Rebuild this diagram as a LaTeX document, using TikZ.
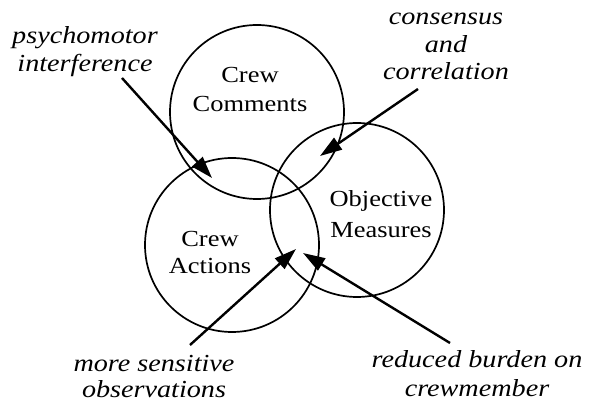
\documentclass[tikz,border=0pt]{standalone}
\usepackage{fontspec}
\setmainfont{Liberation Serif}[FakeStretch=1.15]
\usetikzlibrary{arrows.meta}
\tikzset{
  ring/.style={draw, circle, line width=1.7pt, minimum size=174pt, inner sep=0pt},
  lbl/.style={anchor=base, inner sep=0pt, font=\fontsize{23}{29}\selectfont},
  note/.style={anchor=base, inner sep=0pt, font=\fontsize{24.5}{27}\selectfont\itshape},
  pointer/.style={line width=2.4pt, -{Triangle[length=22pt,width=14pt]}},
}
\begin{document}
\begin{tikzpicture}[x=1pt,y=-1pt]
\path[use as bounding box] (0,0) rectangle (590,403);
% circles
\node[ring] (cc) at (257,112) {};
\node[ring] (ca) at (232,245) {};
\node[ring] (om) at (357,210) {};
% circle labels
\node[lbl] (cctext) at (250,83) {\begin{tabular}[t]{@{}c@{}}Crew\\Comments\end{tabular}};
\node[lbl, font=\fontsize{23}{27}\selectfont] (catext) at (210,247) {\begin{tabular}[t]{@{}c@{}}Crew\\Actions\end{tabular}};
\node[lbl, font=\fontsize{23}{31}\selectfont] (omtext) at (381,207) {\begin{tabular}[t]{@{}c@{}}Objective\\Measures\end{tabular}};
% notes
\node[note, font=\fontsize{24.5}{28}\selectfont\itshape] (psy) at (85,44) {\begin{tabular}[t]{@{}c@{}}psychomotor\\interference\end{tabular}};
\node[note, font=\fontsize{24.5}{27.5}\selectfont\itshape] (cons) at (446,25) {\begin{tabular}[t]{@{}c@{}}consensus\\and\\correlation\end{tabular}};
\node[note, font=\fontsize{24.5}{26}\selectfont\itshape] (sens) at (154,372) {\begin{tabular}[t]{@{}c@{}}more sensitive\\observations\end{tabular}};
\node[note, font=\fontsize{24.5}{29}\selectfont\itshape] (burd) at (477,368) {\begin{tabular}[t]{@{}c@{}}reduced burden on\\crewmember\end{tabular}};
% arrow ends
\coordinate (psyS) at (122,78);
\coordinate (psyT) at (212,178);
\coordinate (consS) at (418,89);
\coordinate (consT) at (320,156);
\coordinate (sensS) at (190,345);
\coordinate (sensT) at (296,249);
\coordinate (burdS) at (450,343);
\coordinate (burdT) at (303,253);
\draw[pointer] (psyS) -- (psyT);
\draw[pointer] (consS) -- (consT);
\draw[pointer] (sensS) -- (sensT);
\draw[pointer] (burdS) -- (burdT);
\end{tikzpicture}
\end{document}
